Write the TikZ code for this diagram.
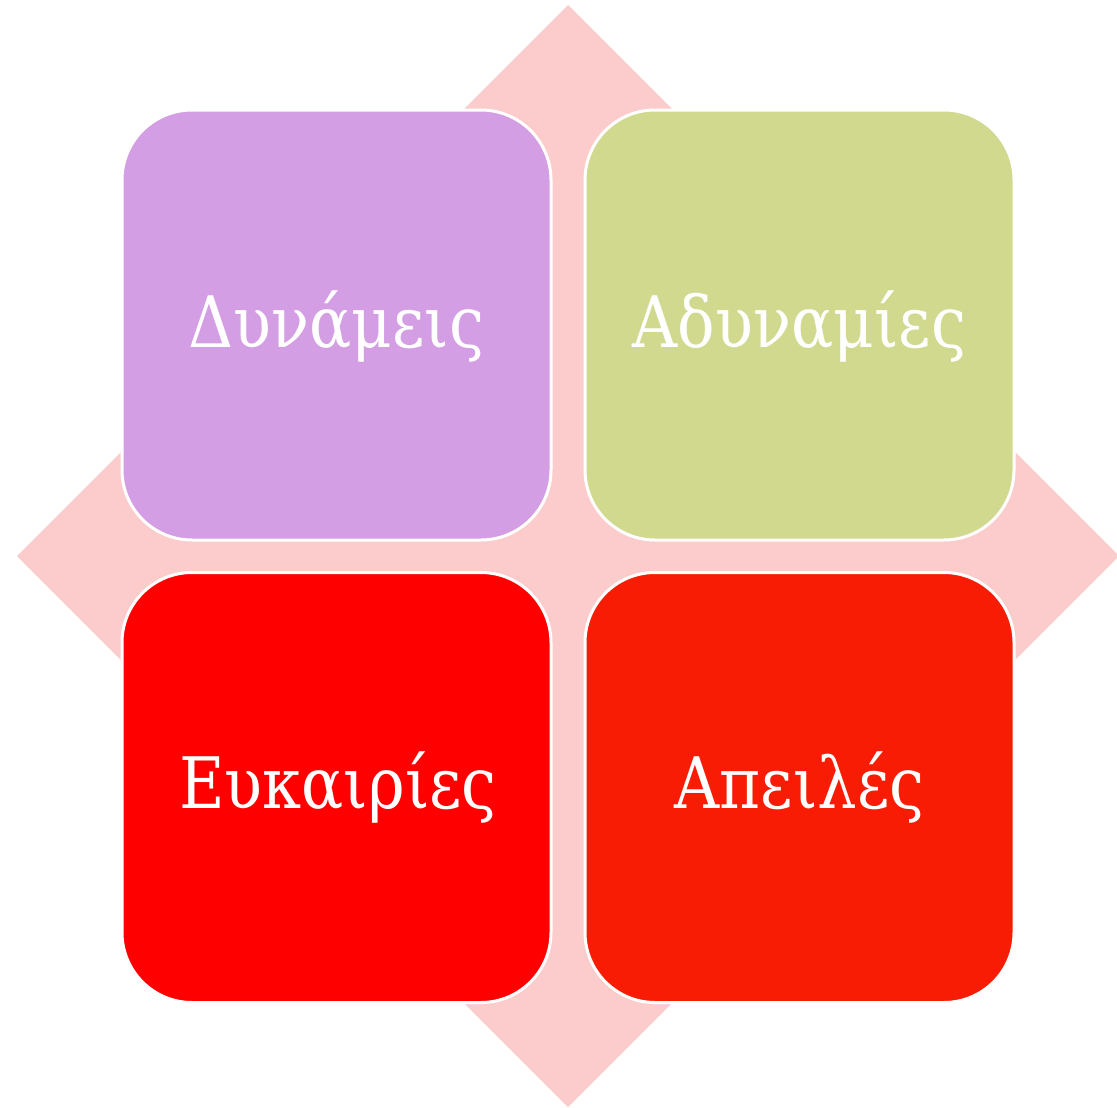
\documentclass[tikz,border=0pt]{standalone}
\usepackage{fontspec}
\setmainfont{DejaVu Serif}[FakeStretch=0.88]
\definecolor{bgpink}{RGB}{251,204,203}
\definecolor{qpurple}{RGB}{211,158,227}
\definecolor{qgreen}{RGB}{208,217,142}
\definecolor{qred}{RGB}{255,0,0}
\definecolor{qorange}{RGB}{248,28,4}
\tikzset{
  quad/.style={draw=white, line width=3pt, rounded corners=70pt, minimum width=429pt, minimum height=430pt, inner sep=0pt},
  qlabel/.style={anchor=base, inner sep=0pt, text=white, font=\fontsize{71}{74}\selectfont},
}
\begin{document}
\begin{tikzpicture}[x=1pt,y=-1pt]
\useasboundingbox (0,0) rectangle (1117,1108);
\fill[bgpink] (568,5) -- (1119,556) -- (568,1107) -- (17,556) -- cycle;
\node[quad, fill=qpurple] (s) at (336.5,325) {};
\node[quad, fill=qgreen] (w) at (799.5,325) {};
\node[quad, fill=qred] (o) at (336.5,787.5) {};
\node[quad, fill=qorange] (t) at (799.5,787.5) {};
\node[qlabel] (sl) at (336.5,347) {Δυνάμεις};
\node[qlabel] (wl) at (799.5,347) {Αδυναμίες};
\node[qlabel] (ol) at (338,808) {Ευκαιρίες};
\node[qlabel] (tl) at (799.5,808) {Απειλές};
\end{tikzpicture}
\end{document}
